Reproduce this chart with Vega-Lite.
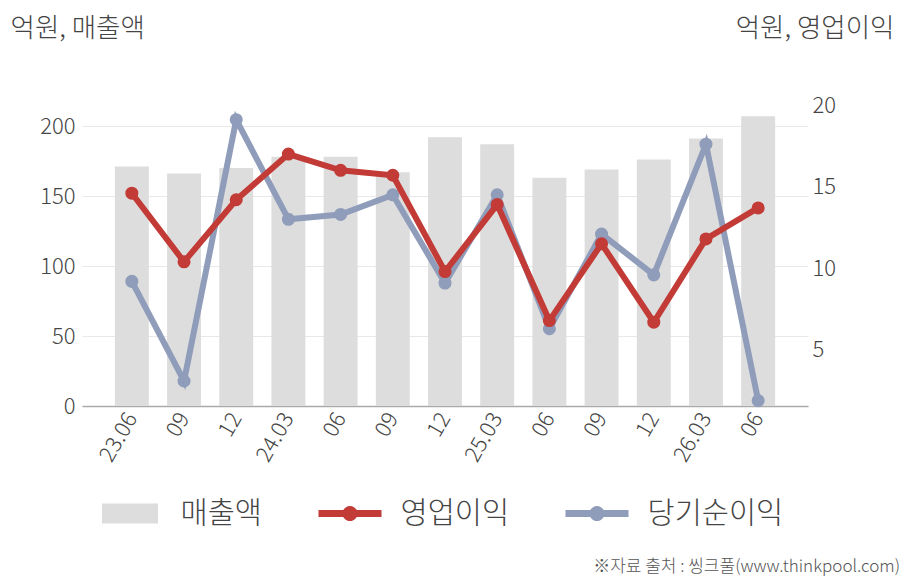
{
  "$schema": "https://vega.github.io/schema/vega-lite/v6.json",
  "width": 726,
  "height": 308,
  "autosize": {"type": "none"},
  "padding": {"left": 82, "top": 98, "right": 100, "bottom": 174},
  "background": "white",
  "config": {
    "view": {"stroke": null},
    "font": "Noto Sans CJK KR",
    "axis": {"labelFont": "Noto Sans CJK KR", "titleFont": "Noto Sans CJK KR", "labelColor": "#444444", "titleColor": "#444444", "labelFontWeight": 300}
  },
  "title": {
    "text": "※자료 출처 : 씽크풀(www.thinkpool.com)",
    "orient": "bottom",
    "anchor": "end",
    "frame": "group",
    "dx": 92,
    "offset": 31,
    "fontSize": 17,
    "fontWeight": 300,
    "color": "#555555",
    "font": "Noto Sans CJK KR"
  },
  "data": {
    "values": [
      {"q": "23.06", "series": "매출액", "value": 171},
      {"q": "23.09", "series": "매출액", "value": 166},
      {"q": "23.12", "series": "매출액", "value": 170},
      {"q": "24.03", "series": "매출액", "value": 178},
      {"q": "24.06", "series": "매출액", "value": 178},
      {"q": "24.09", "series": "매출액", "value": 167},
      {"q": "24.12", "series": "매출액", "value": 192},
      {"q": "25.03", "series": "매출액", "value": 187},
      {"q": "25.06", "series": "매출액", "value": 163},
      {"q": "25.09", "series": "매출액", "value": 169},
      {"q": "25.12", "series": "매출액", "value": 176},
      {"q": "26.03", "series": "매출액", "value": 191},
      {"q": "26.06", "series": "매출액", "value": 207},
      {"q": "23.06", "series": "영업이익", "value": 14.6},
      {"q": "23.09", "series": "영업이익", "value": 10.4},
      {"q": "23.12", "series": "영업이익", "value": 14.2},
      {"q": "24.03", "series": "영업이익", "value": 17.0},
      {"q": "24.06", "series": "영업이익", "value": 16.0},
      {"q": "24.09", "series": "영업이익", "value": 15.7},
      {"q": "24.12", "series": "영업이익", "value": 9.8},
      {"q": "25.03", "series": "영업이익", "value": 13.9},
      {"q": "25.06", "series": "영업이익", "value": 6.8},
      {"q": "25.09", "series": "영업이익", "value": 11.5},
      {"q": "25.12", "series": "영업이익", "value": 6.7},
      {"q": "26.03", "series": "영업이익", "value": 11.8},
      {"q": "26.06", "series": "영업이익", "value": 13.7},
      {"q": "23.06", "series": "당기순이익", "value": 9.2},
      {"q": "23.09", "series": "당기순이익", "value": 3.1},
      {"q": "23.12", "series": "당기순이익", "value": 19.1},
      {"q": "24.03", "series": "당기순이익", "value": 13.0},
      {"q": "24.06", "series": "당기순이익", "value": 13.3},
      {"q": "24.09", "series": "당기순이익", "value": 14.5},
      {"q": "24.12", "series": "당기순이익", "value": 9.1},
      {"q": "25.03", "series": "당기순이익", "value": 14.5},
      {"q": "25.06", "series": "당기순이익", "value": 6.3},
      {"q": "25.09", "series": "당기순이익", "value": 12.1},
      {"q": "25.12", "series": "당기순이익", "value": 9.6},
      {"q": "26.03", "series": "당기순이익", "value": 17.6},
      {"q": "26.06", "series": "당기순이익", "value": 1.9}
    ]
  },
  "encoding": {
    "x": {
      "field": "q",
      "type": "nominal",
      "title": null,
      "scale": {
        "domain": ["23.06","23.09","23.12","24.03","24.06","24.09","24.12","25.03","25.06","25.09","25.12","26.03","26.06"],
        "paddingInner": 0.35,
        "paddingOuter": 0.63
      },
      "axis": {
        "labelAngle": -60,
        "labelFontSize": 22,
        "labelPadding": 8,
        "ticks": false,
        "tickSize": 0,
        "domainColor": "#aaaaaa",
        "domainWidth": 1.5,
        "grid": false,
        "labelExpr": "datum.value == '23.06' || substring(datum.value, 3) == '03' ? datum.value : substring(datum.value, 3)"
      }
    }
  },
  "layer": [
    {
      "transform": [{"filter": "datum.series == '매출액'"}],
      "mark": {"type": "bar"},
      "encoding": {
        "y": {
          "field": "value",
          "type": "quantitative",
          "scale": {"domain": [0, 220], "nice": false, "zero": true},
          "axis": {
            "values": [0, 50, 100, 150, 200],
            "title": "억원, 매출액",
            "titleAngle": 0,
            "titleAlign": "left",
            "titleBaseline": "middle",
            "titleX": -72,
            "titleY": -70,
            "titleFontSize": 26.5,
            "titleFontWeight": 300,
            "labelFontSize": 22,
            "labelPadding": 7,
            "ticks": false,
            "domain": false,
            "grid": true,
            "gridColor": "#e8e8e8",
            "gridWidth": 1
          }
        },
        "color": {
          "field": "series",
          "type": "nominal",
          "scale": {
            "domain": ["매출액", "영업이익", "당기순이익"],
            "range": ["#dddddd", "#c23b36", "#8f9cba"]
          },
          "legend": {
            "orient": "none",
            "legendX": 16.5,
            "legendY": 384,
            "direction": "horizontal",
            "title": null,
            "symbolSize": 3969,
            "labelFontSize": 29.5,
            "labelFontWeight": 300,
            "labelFont": "Noto Sans CJK KR",
            "labelColor": "#444444",
            "labelOffset": 19,
            "columnPadding": 56,
            "encode": {
              "symbols": {
                "update": {
                  "shape": {"signal": "datum.value == '매출액' ? 'M-0.89,-0.32H0.89V0.32H-0.89Z' : 'M-1,-0.11H-0.2V0.11H-1Z M0.2,-0.11H1V0.11H0.2Z M0,-0.24A0.24,0.24 0 1 1 0,0.24A0.24,0.24 0 1 1 0,-0.24Z'"},
                  "fill": {"scale": "color", "field": "value"},
                  "strokeWidth": {"value": 0},
                  "opacity": {"value": 1}
                }
              }
            }
          }
        }
      }
    },
    {
      "encoding": {
        "y": {
          "field": "value",
          "type": "quantitative",
          "scale": {"domain": [1.57, 20.43], "nice": false, "zero": false},
          "axis": {
            "orient": "right",
            "values": [5, 10, 15, 20],
            "title": "억원, 영업이익",
            "titleAngle": 0,
            "titleAlign": "right",
            "titleBaseline": "middle",
            "titleX": 86,
            "titleY": -70,
            "titleFontSize": 26.5,
            "titleFontWeight": 300,
            "labelFontSize": 22,
            "labelPadding": 4,
            "ticks": false,
            "domain": false,
            "grid": false
          }
        },
        "color": {"field": "series", "type": "nominal"}
      },
      "layer": [
        {
          "transform": [{"filter": "datum.series == '당기순이익'"}],
          "mark": {"type": "line", "strokeWidth": 6, "point": {"filled": true, "size": 170, "opacity": 1}}
        },
        {
          "transform": [{"filter": "datum.series == '영업이익'"}],
          "mark": {"type": "line", "strokeWidth": 6, "point": {"filled": true, "size": 170, "opacity": 1}}
        }
      ]
    }
  ],
  "resolve": {"scale": {"y": "independent"}}
}
